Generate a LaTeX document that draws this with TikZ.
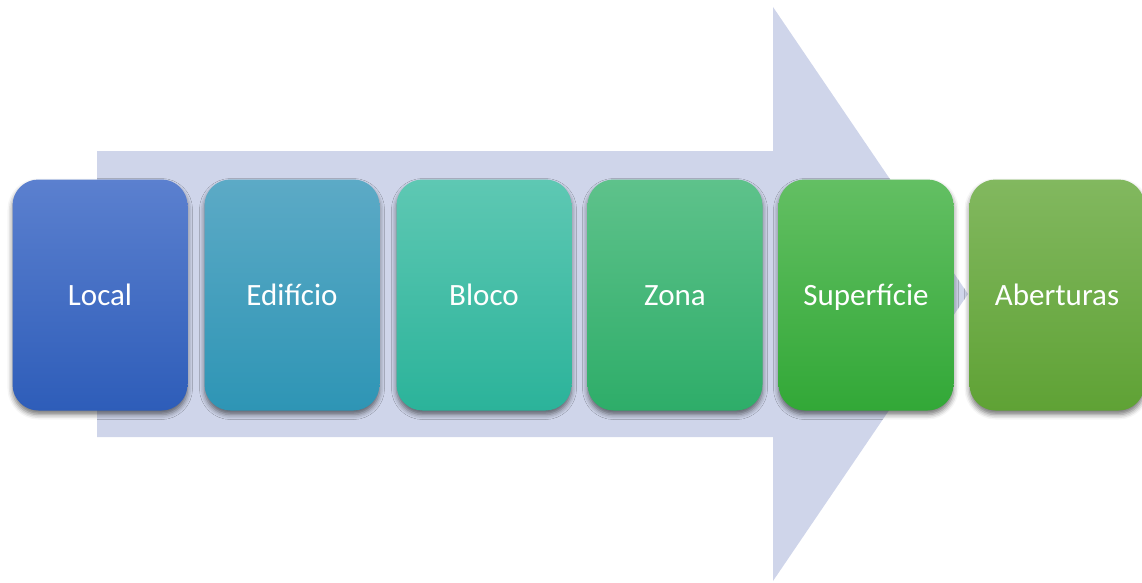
\documentclass[tikz,border=0pt]{standalone}
\usepackage{fontspec}
\setmainfont{Carlito}
\usetikzlibrary{shadows.blur,shadings}
\definecolor{arrowc}{HTML}{CFD5EA}
\definecolor{c1t}{HTML}{5B80CF}\definecolor{c1b}{HTML}{2E5DB9}
\definecolor{c2t}{HTML}{5CAAC6}\definecolor{c2b}{HTML}{2E95B5}
\definecolor{c3t}{HTML}{5EC8B3}\definecolor{c3b}{HTML}{2BB39A}
\definecolor{c4t}{HTML}{5EC28B}\definecolor{c4b}{HTML}{2EAD69}
\definecolor{c5t}{HTML}{63BF63}\definecolor{c5b}{HTML}{32A837}
\definecolor{c6t}{HTML}{82B85F}\definecolor{c6b}{HTML}{5FA235}
\tikzset{
  stagebox/.style={rectangle, rounded corners=26pt, minimum width=175pt, minimum height=231pt,
    inner sep=0pt, text=white, font=\fontsize{31}{36}\selectfont,
    text height=27pt, text depth=7pt,
    blur shadow={shadow xshift=0pt, shadow yshift=-4pt, shadow blur radius=5pt, shadow opacity=55}},
  bigarrow/.style={fill=arrowc, draw=none}
}
\begin{document}
\begin{tikzpicture}[x=1pt,y=-1pt]
\useasboundingbox (0,0) rectangle (1142,583);
\fill[bigarrow] (97,151) -- (773,151) -- (773,7) -- (968,294) -- (773,581) -- (773,437) -- (97,437) -- cycle;
\node[stagebox, top color=c1t, bottom color=c1b] (local) at (100,295) {Local};
\node[stagebox, top color=c2t, bottom color=c2b] (edif) at (292,295) {Edifício};
\node[stagebox, top color=c3t, bottom color=c3b] (bloco) at (484,295) {Bloco};
\node[stagebox, top color=c4t, bottom color=c4b] (zona) at (675,295) {Zona};
\node[stagebox, top color=c5t, bottom color=c5b] (sup) at (866,295) {Superfície};
\node[stagebox, top color=c6t, bottom color=c6b] (aber) at (1057,295) {Aberturas};
\end{tikzpicture}
\end{document}
